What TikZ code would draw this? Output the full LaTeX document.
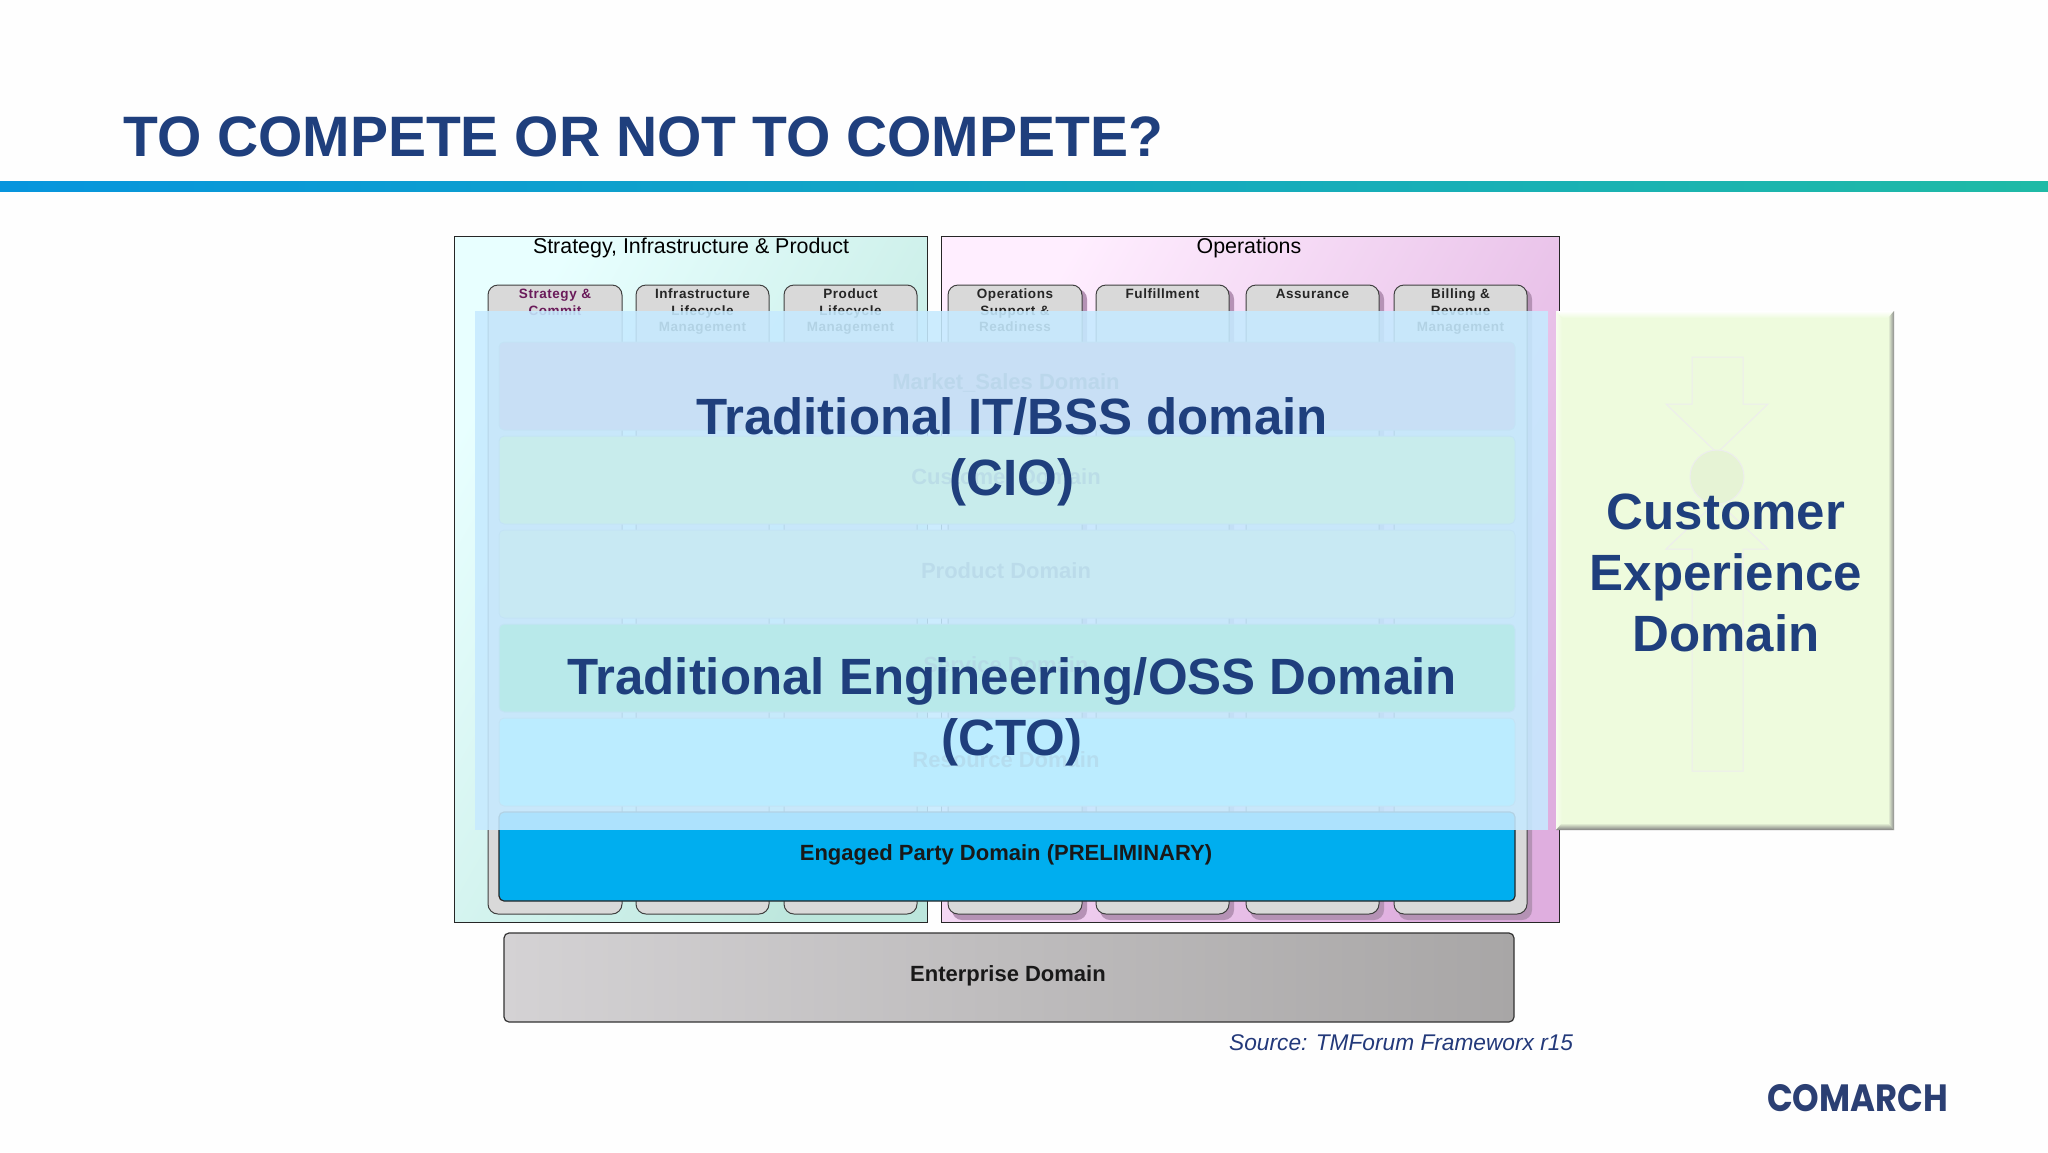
\documentclass[tikz,border=0pt]{standalone}
\usepackage{fontspec}
\setmainfont{Liberation Sans}
\newfontfamily\logofont{Poppins}
\definecolor{navy}{HTML}{1F3F7D}
\definecolor{srcblue}{HTML}{23397A}
\definecolor{logoblue}{HTML}{2B3F73}
\definecolor{veil}{HTML}{C6EAFF}
\definecolor{cxfill}{HTML}{EEFBDD}
\definecolor{cxicon}{HTML}{EDFADC}
\definecolor{cxdisc}{HTML}{E6F3D5}
\definecolor{barleft}{HTML}{0795DD}
\definecolor{barright}{HTML}{1FBAA6}
\definecolor{stratA}{HTML}{E8FFFF}
\definecolor{stratB}{HTML}{BCE6DC}
\definecolor{opsA}{HTML}{FFEEFF}
\definecolor{opsB}{HTML}{DFAEDF}
\definecolor{opsshadow}{HTML}{B592B5}
\definecolor{Rowa}{HTML}{D890AF}
\definecolor{Rowb}{HTML}{D8FF64}
\definecolor{Rowc}{HTML}{D8E99E}
\definecolor{Rowd}{HTML}{53E953}
\definecolor{Rowe}{HTML}{6CFFFF}
\definecolor{partyblue}{HTML}{00AEEF}
\definecolor{entA}{HTML}{D4D2D4}
\definecolor{entB}{HTML}{A8A6A6}
\tikzset{
 x=1pt,y=-1pt,
 panel/.style={draw=black!85,line width=1pt},
 colbox/.style={draw=black!75,line width=1pt,fill=black!15,rounded corners=10pt},
 coltext/.style={font=\bfseries\fontsize{13.5}{16.5}\selectfont\addfontfeatures{LetterSpace=4},text=black!85,align=center,anchor=north,inner sep=0pt,text width=130pt},
 rowbox/.style={draw=black!30,line width=1pt,rounded corners=5pt},
 rowtext/.style={font=\bfseries\fontsize{22}{26}\selectfont,text=black!90,inner sep=0pt},
 veiledtext/.style={rowtext,text opacity=.55},
 heading/.style={font=\fontsize{21.4}{25}\selectfont,text=black,inner sep=0pt},
 big/.style={font=\bfseries\fontsize{51}{61}\selectfont,text=navy,align=center,inner sep=0pt},
 icon/.style={draw=black!7,line width=1pt,fill=cxicon},
}
\begin{document}
\begin{tikzpicture}
\useasboundingbox (0,0) rectangle (2048,1152);
\fill[white!99.5!black] (0,0) rectangle (2048,1152);
% title
\node[anchor=west,inner sep=0pt,font=\bfseries\fontsize{57}{66}\selectfont,text=navy] (title) at (123,137) {TO COMPETE OR NOT TO COMPETE?};
\shade[left color=barleft,right color=barright] (0,181) rectangle (2048,191);
% panels
\shade[panel,top color=stratA,bottom color=stratB,shading angle=60] (454,236) rectangle (927,922);
\shade[panel,top color=opsA,bottom color=opsB,shading angle=60] (941,236) rectangle (1559,922);
\node[heading] (h1) at (691,248) {Strategy, Infrastructure \& Product};
\node[heading] (h2) at (1249,248) {Operations};
% columns
\foreach \l/\r/\t in {488/622/{\textcolor[HTML]{6A1B5A}{Strategy \&}\\\textcolor[HTML]{6A1B5A}{Commit}},
                      636/769/{Infrastructure\\Lifecycle\\Management},
                      784/917/{Product\\Lifecycle\\Management}}{
  \draw[colbox] (\l,285) rectangle (\r,914);
  \node[coltext] at ({(\l+\r)/2},289) {\t};
}
\foreach \l/\r/\t in {948/1082/{Operations\\Support \&\\Readiness},
                      1096/1229/{Fulfillment},
                      1246/1379/{Assurance},
                      1394/1527/{Billing \&\\Revenue\\Management}}{
  \fill[opsshadow,rounded corners=10pt] (\l+4,289) rectangle (\r+5,920);
  \draw[colbox] (\l,285) rectangle (\r,914);
  \node[coltext] at ({(\l+\r)/2},289) {\t};
}
% domain rows
\draw[rowbox,fill=Rowa] (499,342) rectangle (1515,430);
\draw[rowbox,fill=Rowb] (499,436) rectangle (1515,524);
\draw[rowbox,fill=Rowc] (499,530) rectangle (1515,618);
\draw[rowbox,fill=Rowd] (499,624) rectangle (1515,712);
\draw[rowbox,fill=Rowe] (499,718) rectangle (1515,806);
\draw[rowbox,draw=black!85,line width=1.2pt,fill=partyblue] (499,812) rectangle (1515,901);
\node[veiledtext] (r1) at (1006,383) {Market\_Sales Domain};
\node[veiledtext] (r2) at (1006,477) {Customer Domain};
\node[veiledtext] (r3) at (1006,571) {Product Domain};
\node[veiledtext] (r4) at (1006,665) {Service Domain};
\node[veiledtext] (r5) at (1006,760) {Resource Domain};
\node[rowtext] (r6) at (1006,855) {Engaged Party Domain (PRELIMINARY)};
% enterprise
\shade[draw=black!80,line width=1.2pt,rounded corners=5pt,left color=entA,right color=entB] (504,933) rectangle (1514,1022);
\node[rowtext] (r7) at (1008,976) {Enterprise Domain};
% veil
\fill[veil,fill opacity=.88] (475,311) rectangle (1548,830);
% customer experience box
\fill[cxfill] (1556,311) rectangle (1894,830);
\shade[top color=white,bottom color=cxfill] (1556,311) -- (1894,311) -- (1888,318) -- (1562,318) -- cycle;
\shade[left color=cxfill!50!white,right color=cxfill] (1556,311) -- (1562,318) -- (1562,823) -- (1556,830) -- cycle;
\shade[left color=cxfill,right color=black!45] (1894,311) -- (1894,830) -- (1888,823) -- (1888,318) -- cycle;
\shade[top color=cxfill,bottom color=black!50] (1556,830) -- (1894,830) -- (1888,823) -- (1562,823) -- cycle;
\draw[icon] (1692,357) -- (1743,357) -- (1743,404) -- (1768,404) -- (1717,453) -- (1666,404) -- (1692,404) -- cycle;
\draw[icon] (1717,501) -- (1768,549) -- (1743,549) -- (1743,771) -- (1692,771) -- (1692,549) -- (1666,549) -- cycle;
\draw[icon,fill=cxdisc] (1717,477) circle (27);
\node[big] (cx) at (1726,573) {Customer\\Experience\\Domain};
% large labels
\node[big] (bss) at (1012,452) {Traditional IT/BSS domain\\(CIO)};
\node[big] (oss) at (1012,712) {Traditional Engineering/OSS Domain\\(CTO)};
% footer
\node[anchor=west,inner sep=0pt,font=\itshape\fontsize{22.7}{28}\selectfont,text=srcblue] (src) at (1229,1043) {Source: TMForum Frameworx r15};
\node[anchor=west,inner sep=0pt,font=\logofont\bfseries\fontsize{38}{44}\selectfont,text=logoblue] (logo) at (1767,1098) {\scalebox{.89}[1]{COMARCH}};
\end{tikzpicture}
\end{document}
